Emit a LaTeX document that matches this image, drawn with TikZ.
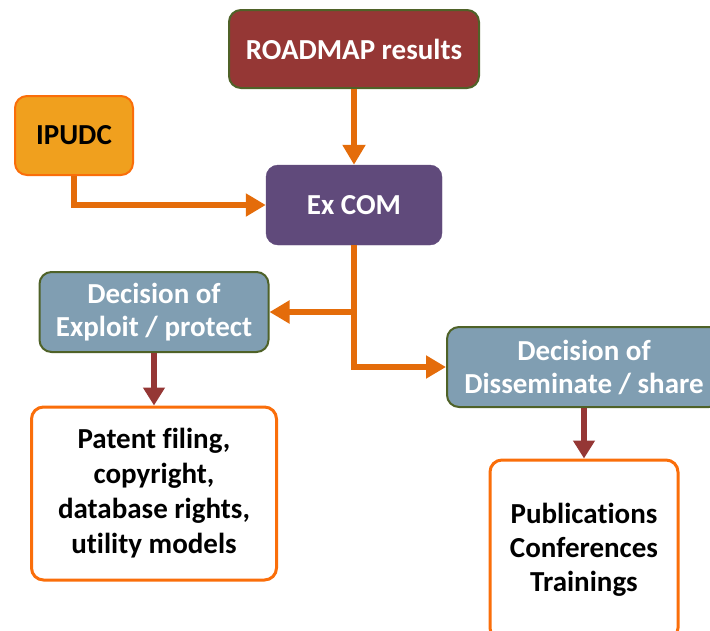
\documentclass[tikz,border=0pt]{standalone}
\usepackage{fontspec}
\setmainfont[Ligatures=NoCommon]{Carlito}
\usetikzlibrary{arrows.meta}
\definecolor{roadred}{RGB}{149,55,53}
\definecolor{olive}{RGB}{79,98,40}
\definecolor{ipfill}{RGB}{240,160,30}
\definecolor{ipborder}{RGB}{250,110,10}
\definecolor{purp}{RGB}{96,74,123}
\definecolor{decfill}{RGB}{128,158,178}
\definecolor{orarrow}{RGB}{228,108,10}
\tikzset{
  box/.style={rounded corners=12pt, align=center, font=\fontsize{29}{33}\selectfont\bfseries, inner sep=0pt},
  oarrow/.style={draw=orarrow, line width=5.5pt, -{Triangle[length=20pt,width=22pt]}},
  rarrow/.style={draw=roadred, line width=6.5pt, -{Triangle[length=18pt,width=21pt]}},
}
\begin{document}
\begin{tikzpicture}[x=1pt,y=-1pt]
\useasboundingbox (0,0) rectangle (710,630);
\clip (0,0) rectangle (710,630);
\node[box, fill=roadred, draw=olive, line width=2pt, text=white, minimum width=250pt, minimum height=78pt] (road) at (354,49) {ROADMAP results};
\node[box, fill=ipfill, draw=ipborder, line width=2pt, text=black, minimum width=118pt, minimum height=79pt] (ipudc) at (74,135.5) {IPUDC};
\node[box, fill=purp, draw=purp, text=white, minimum width=176pt, minimum height=80pt] (excom) at (354,205) {Ex COM};
\node[box, fill=decfill, draw=olive, line width=2pt, text=white, minimum width=229pt, minimum height=80pt] (dexp) at (154,312) {Decision of\\Exploit / protect};
\node[box, fill=decfill, draw=olive, line width=2pt, text=white, minimum width=274pt, minimum height=80pt] (ddis) at (584,367) {Decision of\\Disseminate / share};
\node[box, fill=white, draw=ipborder, line width=3pt, text=black, minimum width=245pt, minimum height=173pt, font=\fontsize{29}{35}\selectfont\bfseries] (pat) at (154,493.5) {Patent filing,\\copyright,\\database rights,\\utility models};
\node[box, fill=white, draw=ipborder, line width=3pt, text=black, minimum width=188pt, minimum height=180pt, font=\fontsize{29}{34}\selectfont\bfseries] (pub) at (584,550) {Publications\\Conferences\\Trainings};
\draw[oarrow] (road.south) -- (excom.north);
\draw[oarrow] (ipudc.south) |- (excom.west);
\draw[oarrow] (excom.south) |- (dexp.east);
\draw[oarrow] (excom.south) |- (ddis.west);
\draw[rarrow] (dexp.south) -- (pat.north);
\draw[rarrow] (ddis.south) -- (pub.north);
\end{tikzpicture}
\end{document}
